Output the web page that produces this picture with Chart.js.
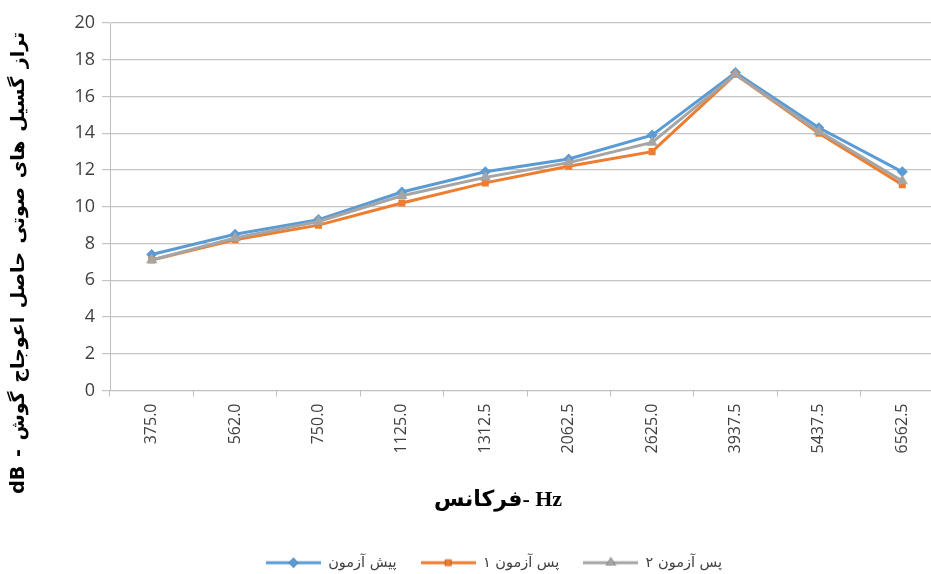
<!DOCTYPE html>
<html>
<head>
<meta charset="utf-8">
<script src="https://cdn.jsdelivr.net/npm/chart.js@4/dist/chart.umd.min.js"></script>
<style>
    html, body { margin: 0; padding: 0; background: #ffffff; overflow: hidden; }
    #wrap { width: 1000px; height: 574px; position: relative; }
</style>
</head>
<body>
<div id="wrap"><canvas id="emissionChart"></canvas></div>
<script>
// داده‌ها
const frequencies = ['375.0', '562.0', '750.0', '1125.0', '1312.5', '2062.5', '2625.0', '3937.5', '5437.5', '6562.5'];
const preTest   = [7.4, 8.5, 9.3, 10.8, 11.9, 12.6, 13.9, 17.3, 14.3, 11.9];
const postTest1 = [7.1, 8.2, 9.0, 10.2, 11.3, 12.2, 13.0, 17.2, 14.0, 11.2];
const postTest2 = [7.1, 8.3, 9.2, 10.6, 11.6, 12.4, 13.5, 17.2, 14.1, 11.4];
const seriesNames = ['پیش آزمون', 'پس آزمون ۱', 'پس آزمون ۲'];
const yTicks = [0, 2, 4, 6, 8, 10, 12, 14, 16, 18, 20];
const xTitle = 'فرکانس- Hz';
const yTitle = 'dB - تراز گسیل های صوتی حاصل اعوجاج گوش';

const colors = ['#5B9BD5', '#ED7D31', '#A5A5A5'];
const markers = ['rectRot', 'rect', 'triangle'];
const markerRadius = [5.5, 5, 6.5];

// نماد راهنما: خط با نشانگر
function makeLegendSymbol(color, style, radius) {
    const c = document.createElement('canvas');
    c.width = 55;
    c.height = 16;
    const g = c.getContext('2d');
    g.strokeStyle = color;
    g.lineWidth = 3;
    g.beginPath();
    g.moveTo(0, 8);
    g.lineTo(55, 8);
    g.stroke();
    Chart.helpers.drawPoint(g, { pointStyle: style, radius: radius, rotation: 0, borderWidth: 0 }, 27.5, 8);
    g.fillStyle = color;
    g.fill();
    return c;
}

function buildDataset(i, values) {
    return {
        label: seriesNames[i],
        data: values,
        borderColor: colors[i],
        backgroundColor: colors[i],
        borderWidth: 3,
        pointStyle: markers[i],
        pointRadius: markerRadius[i],
        pointBorderWidth: 0,
        pointBackgroundColor: colors[i],
        tension: 0,
        order: 2 - i
    };
}

// عنوان محورها
const axisTitlePlugin = {
    id: 'axisTitles',
    afterDraw: function(chart) {
        const g = chart.ctx;
        const area = chart.chartArea;

        g.save();
        g.fillStyle = '#000000';
        g.textAlign = 'center';
        g.textBaseline = 'middle';
        g.translate(area.left - 91, (area.top + area.bottom) / 2 + 56);
        g.rotate(-Math.PI / 2);
        g.font = "bold 19px 'DejaVu Sans', sans-serif";
        g.wordSpacing = '2px';
        g.fillText(yTitle, 0, 0);
        g.restore();

        g.save();
        g.fillStyle = '#000000';
        g.textAlign = 'center';
        g.textBaseline = 'middle';
        g.font = "bold 22px 'Liberation Serif', 'DejaVu Sans', serif";
        g.fillText(xTitle, area.left + 388, area.bottom + 110);
        g.restore();
    }
};

const ctx = document.getElementById('emissionChart');
const legendSymbols = colors.map((c, i) => makeLegendSymbol(c, markers[i], markerRadius[i] * 0.9));

new Chart(ctx, {
    type: 'line',
    data: {
        labels: frequencies,
        datasets: [buildDataset(0, preTest), buildDataset(1, postTest1), buildDataset(2, postTest2)]
    },
    plugins: [axisTitlePlugin],
    options: {
        responsive: true,
        maintainAspectRatio: false,
        animation: false,
        layout: {
            padding: { top: 23, right: 56, left: 44, bottom: -6 }
        },
        plugins: {
            tooltip: { enabled: false },
            legend: {
                position: 'bottom',
                labels: {
                    usePointStyle: true,
                    pointStyleWidth: 55,
                    boxHeight: 14,
                    padding: 24,
                    color: '#404040',
                    font: { family: "'DejaVu Sans', sans-serif", size: 14.5 },
                    generateLabels: function(chart) {
                        return chart.data.datasets.map((ds, i) => ({
                            text: ds.label,
                            datasetIndex: i,
                            pointStyle: legendSymbols[i],
                            fillStyle: colors[i],
                            strokeStyle: colors[i],
                            lineWidth: 0,
                            fontColor: '#404040',
                            hidden: false
                        }));
                    }
                }
            }
        },
        scales: {
            x: {
                offset: true,
                afterFit: function(scale) { scale.height = 141; },
                grid: {
                    offset: true,
                    drawOnChartArea: false,
                    drawTicks: true,
                    tickLength: 6,
                    color: '#BFBFBF'
                },
                border: { color: '#BFBFBF', width: 1 },
                ticks: {
                    minRotation: 90,
                    maxRotation: 90,
                    padding: 7,
                    color: '#404040',
                    font: { family: "'Open Sans', sans-serif", size: 16 }
                }
            },
            y: {
                min: 0,
                max: 20,
                afterFit: function(scale) { scale.width = 66; },
                afterBuildTicks: function(scale) {
                    scale.ticks = yTicks.map(v => ({ value: v }));
                },
                grid: {
                    color: '#C4C4C4',
                    lineWidth: 1.2,
                    drawTicks: true,
                    tickLength: 8
                },
                border: { color: '#BFBFBF', width: 1 },
                ticks: {
                    padding: 7,
                    color: '#404040',
                    font: { family: "'Open Sans', sans-serif", size: 18 }
                }
            }
        }
    }
});
</script>
</body>
</html>
